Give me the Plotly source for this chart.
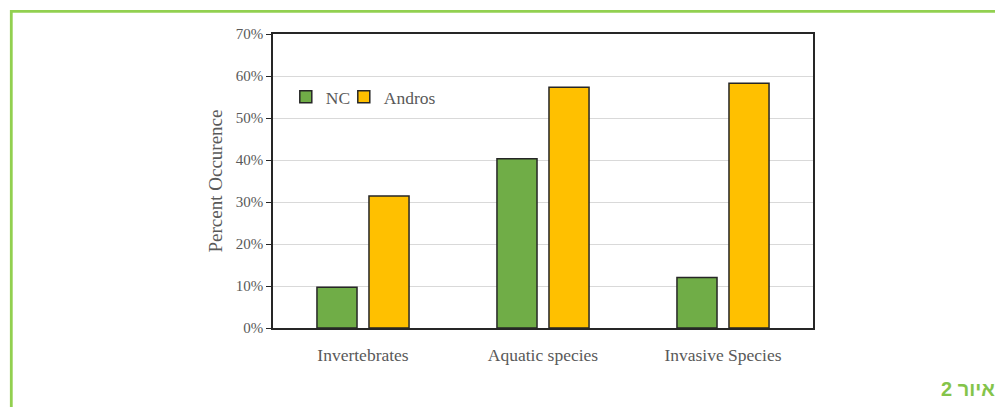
import plotly.graph_objects as go

categories = ["Invertebrates", "Aquatic species", "Invasive Species"]
nc_values = [0.097, 0.403, 0.120]
andros_values = [0.314, 0.573, 0.583]
series_names = ["NC", "Andros"]
y_ticks = [0, 0.1, 0.2, 0.3, 0.4, 0.5, 0.6, 0.7]
y_title = "Percent Occurence"
caption = "איור 2"

serif = "Liberation Serif, Times New Roman, serif"
gray = "#595959"
frame_green = "#92d050"

fig = go.Figure()
fig.add_trace(go.Bar(name=series_names[0], x=categories, y=nc_values, legend="legend",
                     marker=dict(color="#70ad47", line=dict(color="#262626", width=1.5))))
fig.add_trace(go.Bar(name=series_names[1], x=categories, y=andros_values, legend="legend2",
                     marker=dict(color="#ffc000", line=dict(color="#262626", width=1.5))))

legend_common = dict(orientation="h", y=0.786, xanchor="left", yanchor="middle",
                     font=dict(family=serif, size=17.5, color=gray),
                     itemwidth=30, bgcolor="rgba(0,0,0,0)")

# the page body adds an 8px offset, so margins are reduced by 8px
fig.update_layout(
    width=1003, height=407,
    margin=dict(l=265, r=198, t=26, b=87),
    paper_bgcolor="white", plot_bgcolor="white",
    barmode="group", bargap=0.422, bargroupgap=0.23,
    font=dict(family=serif, color=gray),
    showlegend=True,
    legend=dict(x=0.0237, **legend_common),
    legend2=dict(x=0.1311, **legend_common),
)
fig.update_xaxes(showline=True, linecolor="#262626", linewidth=1.5, mirror=True,
                 showgrid=False, ticks="", ticklabelstandoff=10,
                 tickfont=dict(family=serif, size=17.5, color=gray))
fig.update_yaxes(range=[0, 0.7], tickvals=y_ticks, tickformat=".0%",
                 showline=True, linecolor="#262626", linewidth=1.5, mirror=True,
                 showgrid=True, gridcolor="#d9d9d9", gridwidth=1,
                 ticks="outside", ticklen=5, tickcolor="#262626", tickwidth=1.2,
                 tickfont=dict(family=serif, size=15, color=gray),
                 title=dict(text=y_title, standoff=8,
                            font=dict(family=serif, size=19, color=gray)),
                 zeroline=False)

# decorative green frame around the figure (positions in reference pixels)
px_to_xpaper = lambda px: (px - 273) / 540
py_to_ypaper = lambda py: (328 - py) / 294
fig.add_shape(type="line", xref="paper", yref="paper",
              x0=px_to_xpaper(10), x1=px_to_xpaper(1020),
              y0=py_to_ypaper(11.3), y1=py_to_ypaper(11.3),
              line=dict(color=frame_green, width=2.8))
fig.add_shape(type="line", xref="paper", yref="paper",
              x0=px_to_xpaper(11.3), x1=px_to_xpaper(11.3),
              y0=py_to_ypaper(10), y1=py_to_ypaper(420),
              line=dict(color=frame_green, width=2.8))

fig.add_annotation(text="<b>" + caption + "</b>", xref="paper", yref="paper",
                   x=px_to_xpaper(997), y=py_to_ypaper(389),
                   xanchor="right", yanchor="middle", showarrow=False,
                   font=dict(family="Liberation Sans, Arial, sans-serif", size=20, color="#84c44a"))

fig.write_html("out.html")
